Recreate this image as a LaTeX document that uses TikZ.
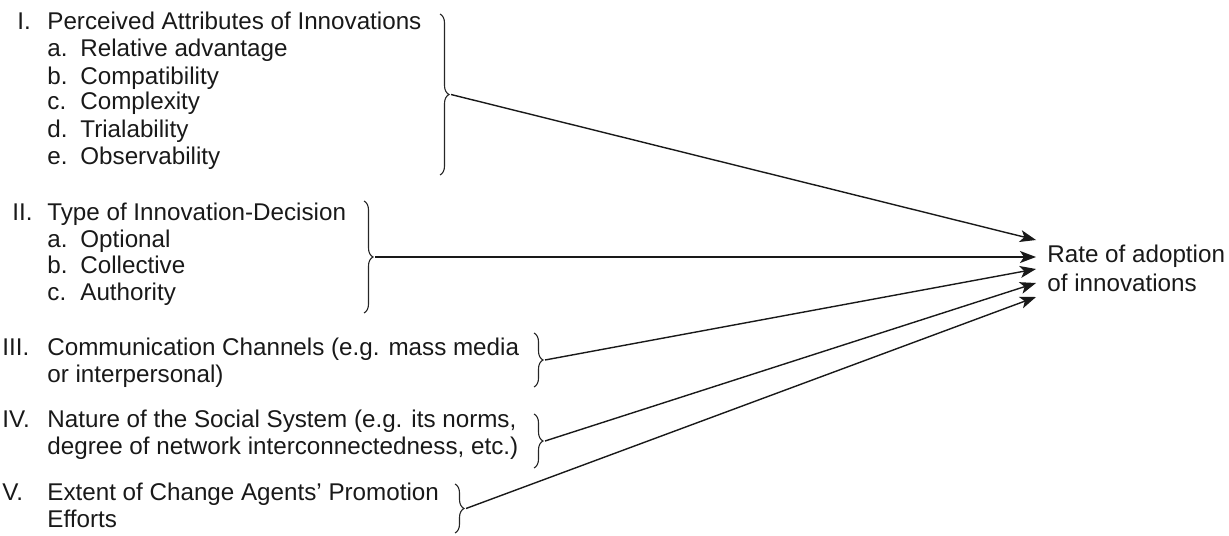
\documentclass[tikz,border=0pt]{standalone}
\usepackage{fontspec}
\setmainfont{Liberation Sans}
\usetikzlibrary{decorations.pathreplacing,arrows.meta}
\begin{document}
\begin{tikzpicture}[x=0.5pt,y=-0.5pt,
  txt/.style={anchor=base west,inner sep=0pt,font=\fontsize{12.1}{14}\selectfont,text=black!90},
  brc/.style={decorate,decoration={brace,amplitude=4.5pt},line width=0.55pt,draw=black!85},
  arr/.style={-{Stealth[length=8pt,width=6pt,inset=2pt]},line width=0.7pt,draw=black!90}]
\useasboundingbox (0,0) rectangle (1229,535);

% Group I
\node[txt] (n1)  at (17,30) {I.};
\node[txt] (t1)  at (47,30) {Perceived Attributes of Innovations};
\node[txt] (l1a) at (47,57) {a.};  \node[txt] (t1a) at (80,57) {Relative advantage};
\node[txt] (l1b) at (47,84) {b.};  \node[txt] (t1b) at (80,84) {Compatibility};
\node[txt] (l1c) at (47,110) {c.}; \node[txt] (t1c) at (80,110) {Complexity};
\node[txt] (l1d) at (47,137) {d.}; \node[txt] (t1d) at (80,137) {Trialability};
\node[txt] (l1e) at (47,164) {e.}; \node[txt] (t1e) at (80,164) {Observability};

% Group II
\node[txt] (n2)  at (12,220) {II.};
\node[txt] (t2)  at (47,220) {Type of Innovation-Decision};
\node[txt] (l2a) at (47,247) {a.}; \node[txt] (t2a) at (80,247) {Optional};
\node[txt] (l2b) at (47,273) {b.}; \node[txt] (t2b) at (80,273) {Collective};
\node[txt] (l2c) at (47,300) {c.}; \node[txt] (t2c) at (80,300) {Authority};

% Group III
\node[txt] (n3)  at (2,355) {III.};
\node[txt] (t3)  at (47,355) {Communication Channels (e.g. mass media};
\node[txt] (t3b) at (47,382) {or interpersonal)};

% Group IV
\node[txt] (n4)  at (2,427) {IV.};
\node[txt] (t4)  at (47,427) {Nature of the Social System (e.g. its norms,};
\node[txt] (t4b) at (47,454) {degree of network interconnectedness, etc.)};

% Group V
\node[txt] (n5)  at (2,500) {V.};
\node[txt] (t5)  at (47,500) {Extent of Change Agents’ Promotion};
\node[txt] (t5b) at (47,527) {Efforts};

% Target
\node[txt] (rate)  at (1047,262) {Rate of adoption};
\node[txt] (rate2) at (1047,291) {of innovations};

% Braces
\draw[brc] (440,14) -- (440,175);
\draw[brc] (364,201) -- (364,313);
\draw[brc] (534,333) -- (534,387);
\draw[brc] (534,414) -- (534,468);
\draw[brc] (455,484) -- (455,533);

\coordinate (b1) at (451,94.5);
\coordinate (b2) at (375,257);
\coordinate (b3) at (545,360);
\coordinate (b4) at (545,441);
\coordinate (b5) at (466,508.5);

\coordinate (e1) at (1036,240);
\coordinate (e2) at (1036,257);
\coordinate (e3) at (1036,269);
\coordinate (e4) at (1036,283);
\coordinate (e5) at (1036,297);

\draw[arr] (b1) -- (e1);
\draw[arr] (b2) -- (e2);
\draw[arr] (b3) -- (e3);
\draw[arr] (b4) -- (e4);
\draw[arr] (b5) -- (e5);
\end{tikzpicture}
\end{document}
